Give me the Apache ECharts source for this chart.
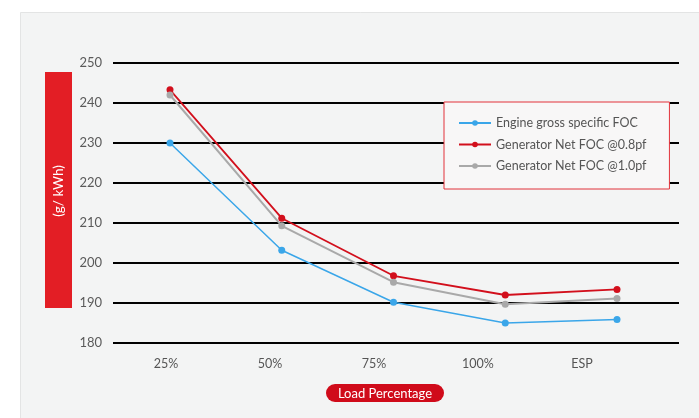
<!DOCTYPE html>
<html>
<head>
<meta charset="utf-8">
<script src="https://cdn.jsdelivr.net/npm/echarts@6/dist/echarts.min.js"></script>
<style>
  html, body { margin: 0; padding: 0; background: #ffffff; }
  #chart { width: 699px; height: 418px; }
</style>
</head>
<body>
<div id="chart"></div>
<script>
// Load steps along the x axis
const categories = ['25%', '50%', '75%', '100%', 'ESP'];

// Fuel oil consumption, g/kWh
const engineGrossFOC = [230.0, 203.2, 190.2, 185.0, 185.9];
const genNetFOC08 = [243.3, 211.2, 196.8, 192.0, 193.4];
const genNetFOC10 = [242.0, 209.3, 195.2, 189.7, 191.1];

// Value axis range and step
const yMin = 180;
const yMax = 250;
const yStep = 10;

const seriesNames = ['Engine gross specific FOC', 'Generator Net FOC @0.8pf', 'Generator Net FOC @1.0pf'];

const FONT = 'Lato';
const TOP = 63;
const PLOT_H = 280;

const chart = echarts.init(document.getElementById('chart'), null, { renderer: 'canvas' });

function lineSeries(name, data, color, width) {
  return {
    name: name,
    type: 'line',
    xAxisIndex: 1,
    yAxisIndex: 1,
    data: data,
    symbol: 'circle',
    symbolSize: 7,
    lineStyle: { color: color, width: width },
    itemStyle: { color: color },
    z: 5
  };
}

const option = {
  backgroundColor: '#ffffff',
  animation: false,
  textStyle: { fontFamily: FONT },
  graphic: [
    {
      type: 'rect', z: -10,
      shape: { x: 20.5, y: 12.5, width: 700, height: 420 },
      style: { fill: '#f3f4f4', stroke: '#e3e4e4', lineWidth: 1 }
    },
    {
      type: 'rect', z: 10,
      shape: { x: 45, y: 72, width: 27, height: 236 },
      style: { fill: '#e31e25' }
    },
    {
      type: 'text', z: 11,
      x: 58.5, y: 191, rotation: Math.PI / 2,
      style: {
        text: '(g/ kWh)', fill: '#ffffff', font: '13.5px ' + FONT,
        align: 'center', verticalAlign: 'middle'
      }
    },
    {
      type: 'rect', z: 10,
      shape: { x: 326, y: 384, width: 118, height: 18, r: 9 },
      style: { fill: '#d00b1a' }
    },
    {
      type: 'text', z: 11,
      x: 385, y: 393.5,
      style: {
        text: 'Load Percentage', fill: '#ffffff', font: '13px ' + FONT,
        align: 'center', verticalAlign: 'middle'
      }
    }
  ],
  legend: {
    orient: 'vertical',
    left: 444,
    top: 102,
    data: seriesNames,
    backgroundColor: '#f8f7f7',
    borderColor: '#e2333b',
    borderWidth: 1,
    padding: [14, 23, 16, 14],
    itemWidth: 32,
    itemHeight: 7,
    itemGap: 7.5,
    textStyle: { color: '#555555', fontSize: 12.5, lineHeight: 14, fontFamily: FONT },
    z: 20
  },
  grid: [
    { left: 113, right: 20, top: TOP, height: PLOT_H },
    { left: 170, right: 82, top: TOP, height: PLOT_H },
    { left: 114, width: 520, top: TOP, height: PLOT_H }
  ],
  xAxis: [
    { gridIndex: 0, type: 'value', show: false, min: 0, max: 1 },
    {
      gridIndex: 1, type: 'category', data: categories, boundaryGap: false,
      show: false
    },
    {
      gridIndex: 2, type: 'category', data: categories, boundaryGap: true,
      axisLine: { show: false }, axisTick: { show: false },
      axisLabel: { color: '#555555', fontSize: 12.5, fontFamily: FONT, margin: 14 }
    }
  ],
  yAxis: [
    {
      gridIndex: 0, type: 'value', min: yMin, max: yMax, interval: yStep,
      axisLine: { show: false }, axisTick: { show: false },
      axisLabel: { color: '#5a5a5a', fontSize: 13, fontFamily: FONT, margin: 11 },
      splitLine: { show: true, lineStyle: { color: '#000000', width: 2 } }
    },
    {
      gridIndex: 1, type: 'value', min: yMin, max: yMax, interval: yStep, show: false,
      splitLine: { show: false }
    },
    {
      gridIndex: 2, type: 'value', min: yMin, max: yMax, interval: yStep, show: false,
      splitLine: { show: false }
    }
  ],
  series: [
    lineSeries(seriesNames[0], engineGrossFOC, '#3aa6e9', 1.5),
    lineSeries(seriesNames[1], genNetFOC08, '#d20f1c', 1.8),
    lineSeries(seriesNames[2], genNetFOC10, '#a9a9a9', 2)
  ]
};

chart.setOption(option);
</script>
</body>
</html>
